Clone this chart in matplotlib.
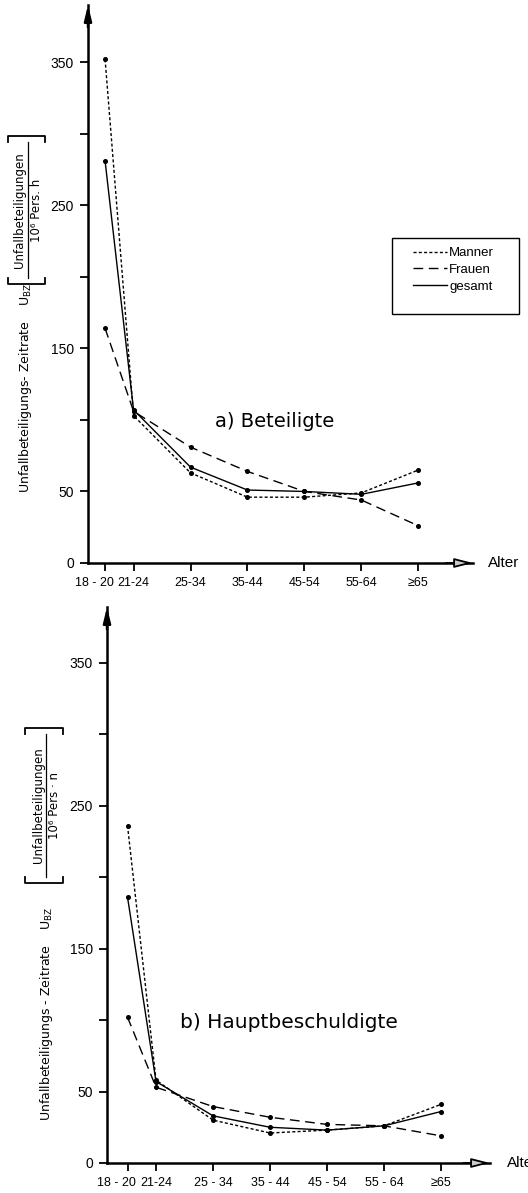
import matplotlib
matplotlib.use("Agg")
import matplotlib.pyplot as plt
import matplotlib.transforms as mtransforms
from matplotlib.lines import Line2D
from matplotlib.patches import Rectangle

plt.rcParams["font.family"] = ["Liberation Sans", "DejaVu Sans"]

# age groups and their spacing on the x axis (first gap is half a step)
age_groups_a = ["18 - 20", "21-24", "25-34", "35-44", "45-54", "55-64", "≥65"]
age_groups_b = ["18 - 20", "21-24", "25 - 34", "35 - 44", "45 - 54", "55 - 64", "≥65"]
age_pos = [0, 0.5, 1.5, 2.5, 3.5, 4.5, 5.5]

# a) Beteiligte
maenner_a = [352, 103, 63, 46, 46, 49, 65]
frauen_a = [164, 106, 81, 64, 50, 44, 26]
gesamt_a = [281, 107, 67, 51, 50, 48, 56]

# b) Hauptbeschuldigte
maenner_b = [236, 58, 30, 21, 23, 26, 41]
frauen_b = [102, 53, 39.5, 32, 27, 26, 19]
gesamt_b = [186, 57, 33, 25, 23, 26, 36]

y_ticks = [0, 50, 100, 150, 200, 250, 300, 350]
y_ticklabels = ["0", "50", "", "150", "", "250", "", "350"]

series_names = ["Manner", "Frauen", "gesamt"]
styles = [(0, (2.2, 1.6)), (0, (7, 4)), "-"]

W, H = 528, 1193
DV = ["DejaVu Sans"]


def fx(px):
    return px / W


def fy(py):
    return 1 - py / H


def make_axes(fig, left, right, top, bottom, xlim, ylim, xlabels):
    ax = fig.add_axes([fx(left), fy(bottom), (right - left) / W, (bottom - top) / H])
    ax.set_xlim(*xlim)
    ax.set_ylim(*ylim)
    for s in ["top", "right"]:
        ax.spines[s].set_visible(False)
    for s in ["left", "bottom"]:
        ax.spines[s].set_linewidth(1.8)
    ax.tick_params(direction="out", length=6, width=1.3, pad=4)
    ax.tick_params(axis="y", labelsize=10)
    ax.tick_params(axis="x", labelsize=9)
    ax.set_yticks(y_ticks)
    ax.set_yticklabels(y_ticklabels)
    ax.set_xticks(age_pos)
    ax.set_xticklabels(xlabels)
    # first age label sits a little left of its tick
    first = ax.get_xticklabels()[0]
    first.set_transform(first.get_transform() +
                        mtransforms.ScaledTranslation(-0.11, 0, fig.dpi_scale_trans))
    # arrow heads on both axes
    ax.annotate("", xy=(0, 1), xytext=(0, 0.96), xycoords="axes fraction",
                arrowprops=dict(arrowstyle="-|>,head_length=0.9,head_width=0.22",
                                color="k", lw=1.8, shrinkA=0, shrinkB=0))
    ax.annotate("", xy=(1, 0), xytext=(0.93, 0), xycoords="axes fraction",
                arrowprops=dict(arrowstyle="-|>,head_length=1.1,head_width=0.28",
                                facecolor="0.8", edgecolor="k", lw=1.3,
                                shrinkA=0, shrinkB=0))
    return ax


def draw_series(ax, data):
    for vals, ls in zip(data, styles):
        ax.plot(age_pos, vals, color="k", lw=1.0, linestyle=ls,
                marker="o", markersize=2.6, clip_on=False)


def ylabel_block(fig, label, x_main, y_main, x_br0, x_br1, y_br0, y_br1,
                 x_line, x_num, x_den, den):
    fig.text(fx(x_main), fy(y_main), label + "    U$_{\\mathrm{BZ}}$",
             rotation=90, ha="center", va="center", fontsize=9, family=DV)
    yc = (y_br0 + y_br1) / 2
    fig.text(fx(x_num), fy(yc), "Unfallbeteiligungen", rotation=90,
             ha="center", va="center", fontsize=8.5, family=DV)
    fig.text(fx(x_den), fy(yc), den, rotation=90, ha="center", va="center",
             fontsize=8.5, family=DV)
    tr = fig.transFigure
    fig.add_artist(Line2D([fx(x_line)] * 2, [fy(y_br0 + 6), fy(y_br1 - 6)],
                          transform=tr, color="k", lw=0.9))
    # brackets (rotated, so they run across the top and bottom)
    fig.add_artist(Line2D([fx(x_br0), fx(x_br0), fx(x_br1), fx(x_br1)],
                          [fy(y_br0 + 6), fy(y_br0), fy(y_br0), fy(y_br0 + 6)],
                          transform=tr, color="k", lw=1.3))
    fig.add_artist(Line2D([fx(x_br0), fx(x_br0), fx(x_br1), fx(x_br1)],
                          [fy(y_br1 - 6), fy(y_br1), fy(y_br1), fy(y_br1 - 6)],
                          transform=tr, color="k", lw=1.3))


fig = plt.figure(figsize=(5.28, 11.93), dpi=100)

# upper chart
ax1 = make_axes(fig, 88, 473, 5, 563, (-0.3, 6.46), (0, 390), age_groups_a)
draw_series(ax1, [maenner_a, frauen_a, gesamt_a])
ax1.text(6.72, 0, "Alter", ha="left", va="center", fontsize=11, clip_on=False)
fig.text(fx(215), fy(422), "a) Beteiligte", ha="left", va="center",
         fontsize=14, family=DV)
ylabel_block(fig, "Unfallbeteiligungs- Zeitrate", 26, 388, 8, 45, 136, 284,
             28, 20, 37, "10⁶ Pers. h")

# legend box
fig.add_artist(Rectangle((fx(392), fy(314)), (519 - 392) / W, (314 - 238) / H,
                         transform=fig.transFigure, fill=False, edgecolor="k", lw=1.0))
handles = [Line2D([], [], color="k", lw=1.0, linestyle=ls) for ls in styles]
fig.legend(handles, series_names, loc="upper left", bbox_to_anchor=(fx(413), fy(247)),
           frameon=False, fontsize=9.5, handlelength=2.6, handletextpad=0.15,
           borderpad=0, labelspacing=0.35, borderaxespad=0)

# lower chart
ax2 = make_axes(fig, 107, 490, 607, 1163, (-0.36, 6.36), (0, 389), age_groups_b)
draw_series(ax2, [maenner_b, frauen_b, gesamt_b])
ax2.text(6.66, 0, "Alter", ha="left", va="center", fontsize=11, clip_on=False)
fig.text(fx(180), fy(1022), "b) Hauptbeschuldigte", ha="left", va="center",
         fontsize=14.5, family=DV)
ylabel_block(fig, "Unfallbeteiligungs - Zeitrate", 47, 1014, 25, 63, 728, 883,
             46, 38, 55, "10⁶ Pers · n")

fig.savefig("out.png", dpi=100)
